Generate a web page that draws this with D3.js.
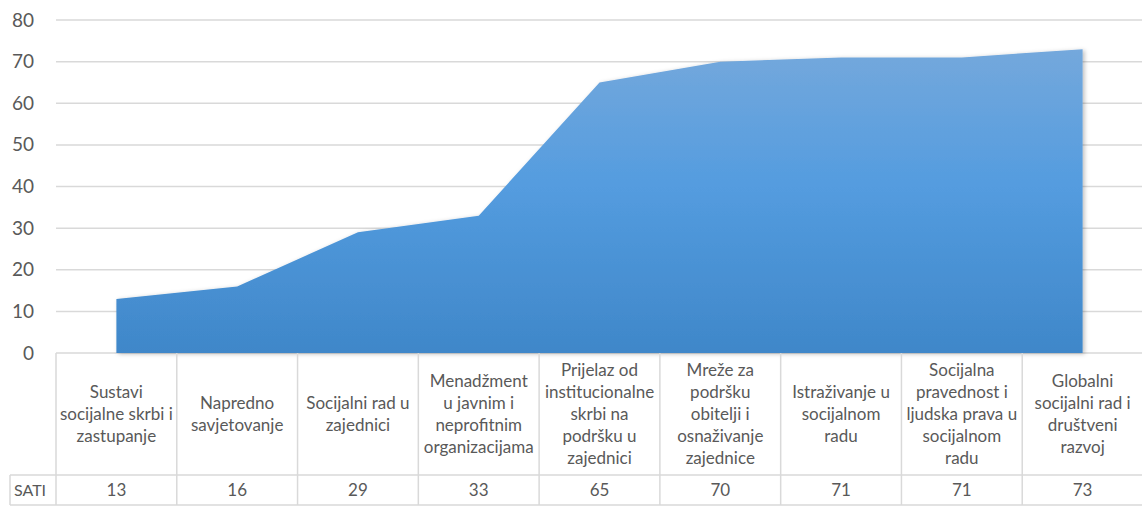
<!DOCTYPE html>
<html>
<head>
<meta charset="utf-8">
<script src="https://cdn.jsdelivr.net/npm/d3@7"></script>
<style>
  body { margin: 0; background: #fff; }
  text { font-family: Lato, "Open Sans", sans-serif; fill: #595959; }
</style>
</head>
<body>
<script>
// categories (line breaks as in the picture)
var categories = [
  "Sustavi\nsocijalne skrbi i\nzastupanje",
  "Napredno\nsavjetovanje",
  "Socijalni rad u\nzajednici",
  "Menadžment\nu javnim i\nneprofitnim\norganizacijama",
  "Prijelaz od\ninstitucionalne\nskrbi na\npodršku u\nzajednici",
  "Mreže za\npodršku\nobitelji i\nosnaživanje\nzajednice",
  "Istraživanje u\nsocijalnom\nradu",
  "Socijalna\npravednost i\nljudska prava u\nsocijalnom\nradu",
  "Globalni\nsocijalni rad i\ndruštveni\nrazvoj"
];
var seriesName = "SATI";
var sati = [13, 16, 29, 33, 65, 70, 71, 71, 73];
var yTicks = [0, 10, 20, 30, 40, 50, 60, 70, 80];

window.onload = drawChart;

function drawChart(){
  var width = 1142, height = 507;

  var svg = d3.select("body").append("svg")
    .attr("width", width)
    .attr("height", height);

  var x = d3.scaleBand()
    .domain(categories)
    .range([56, 1143]);

  var y = d3.scaleLinear()
    .domain([0, 80])
    .range([353, 20]);

  var defs = svg.append("defs");
  var grad = defs.append("linearGradient")
    .attr("id", "areaGrad")
    .attr("x1", 0).attr("y1", 0).attr("x2", 0).attr("y2", 1);
  grad.append("stop").attr("offset", "0%").attr("stop-color", "#74a8dc");
  grad.append("stop").attr("offset", "45%").attr("stop-color", "#549cdf");
  grad.append("stop").attr("offset", "100%").attr("stop-color", "#3f87c9");

  var shadow = defs.append("filter").attr("id", "shadow")
    .attr("x", "-5%").attr("y", "-5%").attr("width", "110%").attr("height", "110%");
  shadow.append("feDropShadow")
    .attr("dx", 2).attr("dy", 1).attr("stdDeviation", 2)
    .attr("flood-color", "#000").attr("flood-opacity", 0.25);

  // gridlines
  svg.append("g")
    .selectAll("line")
    .data(yTicks)
    .enter()
    .append("line")
    .attr("x1", 56).attr("x2", width)
    .attr("y1", function(d){ return y(d); })
    .attr("y2", function(d){ return y(d); })
    .attr("stroke", "#d9d9d9")
    .attr("stroke-width", 1.5);

  // y axis labels
  var yAxis = svg.append("g")
    .attr("transform", "translate(40,0)")
    .call(d3.axisLeft(y).tickValues(yTicks).tickSize(0).tickPadding(6));
  yAxis.select(".domain").remove();
  yAxis.selectAll("text")
    .style("font-size", "19px")
    .style("font-family", "Lato, sans-serif")
    .attr("fill", "#595959");

  // area
  var area = d3.area()
    .x(function(d, i){ return x(categories[i]) + x.bandwidth() / 2; })
    .y0(y(0))
    .y1(function(d){ return y(d); });

  svg.append("path")
    .datum(sati)
    .attr("d", area)
    .attr("fill", "url(#areaGrad)")
    .attr("filter", "url(#shadow)");

  // data table
  var table = svg.append("g");
  var rowTop = 353, rowMid = 475, rowBot = 505;
  var bounds = categories.map(function(c){ return x(c); }).concat([x.range()[1]]);

  table.selectAll(".vline")
    .data(bounds)
    .enter()
    .append("line")
    .attr("class", "vline")
    .attr("x1", function(d){ return d; })
    .attr("x2", function(d){ return d; })
    .attr("y1", rowTop).attr("y2", rowBot)
    .attr("stroke", "#d9d9d9").attr("stroke-width", 1.5);

  table.append("line")
    .attr("x1", 10).attr("x2", width)
    .attr("y1", rowMid).attr("y2", rowMid)
    .attr("stroke", "#d9d9d9").attr("stroke-width", 1.5);
  table.append("line")
    .attr("x1", 10).attr("x2", width)
    .attr("y1", rowBot).attr("y2", rowBot)
    .attr("stroke", "#d9d9d9").attr("stroke-width", 1.5);
  table.append("line")
    .attr("x1", 10).attr("x2", 10)
    .attr("y1", rowMid).attr("y2", rowBot)
    .attr("stroke", "#d9d9d9").attr("stroke-width", 1.5);

  // category labels
  var lineH = 22;
  table.selectAll(".cat")
    .data(categories)
    .enter()
    .append("text")
    .attr("class", "cat")
    .attr("text-anchor", "middle")
    .style("font-size", "17px")
    .each(function(d){
      var lines = d.split("\n");
      var cx = x(d) + x.bandwidth() / 2;
      var startY = (rowTop + rowMid) / 2 - (lines.length - 1) * lineH / 2;
      var t = d3.select(this);
      lines.forEach(function(l, i){
        t.append("tspan")
          .attr("x", cx)
          .attr("y", startY + i * lineH)
          .attr("dy", "0.35em")
          .text(l);
      });
    });

  // values row
  table.selectAll(".val")
    .data(sati)
    .enter()
    .append("text")
    .attr("class", "val")
    .attr("text-anchor", "middle")
    .attr("x", function(d, i){ return x(categories[i]) + x.bandwidth() / 2; })
    .attr("y", (rowMid + rowBot) / 2)
    .attr("dy", "0.35em")
    .style("font-size", "17px")
    .text(function(d){ return d; });

  table.append("text")
    .attr("x", 14)
    .attr("y", (rowMid + rowBot) / 2)
    .attr("dy", "0.35em")
    .style("font-size", "16px")
    .text(seriesName);
}
</script>
</body>
</html>
